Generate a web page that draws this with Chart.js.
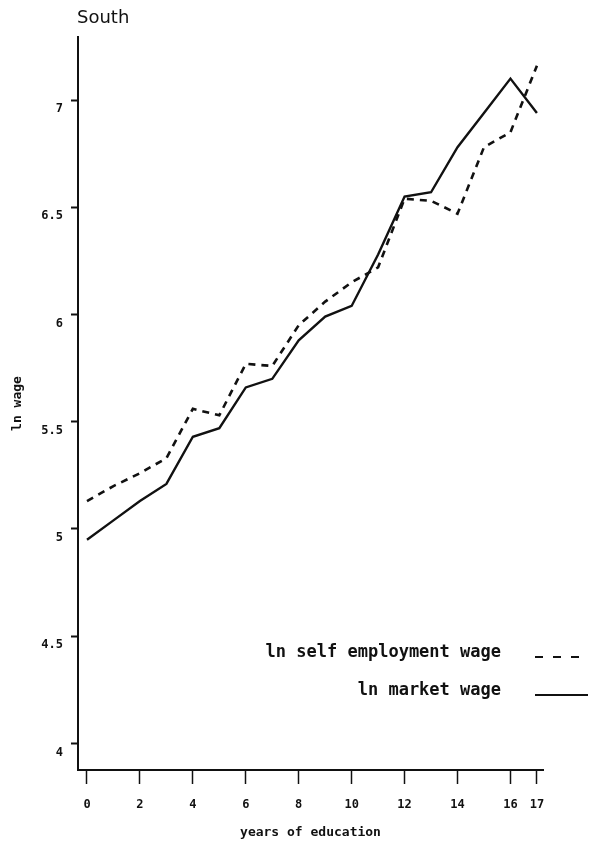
<!DOCTYPE html>
<html>
<head>
<meta charset="utf-8">
<title>South - ln wage by years of education</title>
<script src="https://cdn.jsdelivr.net/npm/chart.js@4/dist/chart.umd.min.js"></script>
<style>
    html, body { margin: 0; padding: 0; background: #ffffff; }
    #wrap { width: 590px; height: 850px; }
</style>
</head>
<body>
<div id="wrap"><canvas id="wageChart" width="590" height="850"></canvas></div>
<script>
    // Data
    const YEARS = [0, 1, 2, 3, 4, 5, 6, 7, 8, 9, 10, 11, 12, 13, 14, 15, 16, 17];
    const SELF_EMPLOYMENT_WAGE = [5.13, 5.20, 5.26, 5.33, 5.56, 5.53, 5.77, 5.76, 5.95, 6.06, 6.15, 6.22, 6.54, 6.53, 6.47, 6.78, 6.85, 7.16];
    const MARKET_WAGE = [4.95, 5.04, 5.13, 5.21, 5.43, 5.47, 5.66, 5.70, 5.88, 5.99, 6.04, 6.28, 6.55, 6.57, 6.78, 6.94, 7.10, 6.94];
    const X_TICKS = [0, 2, 4, 6, 8, 10, 12, 14, 16, 17];
    const Y_TICKS = [4, 4.5, 5, 5.5, 6, 6.5, 7];
    const SERIES_LABELS = ['ln self employment wage', 'ln market wage'];

    const INK = '#111111';
    const MONO = '"DejaVu Sans Mono", "Liberation Mono", monospace';

    function toPoints(values) {
        return YEARS.map((x, i) => ({ x: x, y: values[i] }));
    }

    // Title in the top left, above the y axis
    const titlePlugin = {
        id: 'plainTitle',
        afterDraw(chart) {
            const ctx = chart.ctx;
            ctx.save();
            ctx.fillStyle = INK;
            ctx.font = '18px "DejaVu Sans", sans-serif';
            ctx.textAlign = 'left';
            ctx.textBaseline = 'middle';
            ctx.fillText('South', chart.chartArea.left - 1, 18);
            ctx.restore();
        }
    };

    // Legend: label text on the left, line sample on the right
    const sideLegendPlugin = {
        id: 'sideLegend',
        afterDraw(chart) {
            const ctx = chart.ctx;
            const rows = [655, 693];
            ctx.save();
            chart.data.datasets.forEach((ds, i) => {
                const y = rows[i];
                ctx.fillStyle = INK;
                ctx.font = 'bold 17px ' + MONO;
                ctx.textAlign = 'right';
                ctx.textBaseline = 'middle';
                ctx.fillText(ds.label, 501, y - 2);

                ctx.strokeStyle = INK;
                ctx.lineWidth = 2;
                ctx.setLineDash(ds.borderDash && ds.borderDash.length ? [8, 10] : []);
                ctx.beginPath();
                ctx.moveTo(535, y + 2);
                ctx.lineTo(588, y + 2);
                ctx.stroke();
            });
            ctx.restore();
        }
    };

    const canvas = document.getElementById('wageChart');
    new Chart(canvas.getContext('2d'), {
        type: 'line',
        data: {
            datasets: [
                {
                    label: SERIES_LABELS[0],
                    data: toPoints(SELF_EMPLOYMENT_WAGE),
                    borderColor: INK,
                    borderWidth: 2.6,
                    borderDash: [7, 6],
                    pointRadius: 0,
                    tension: 0,
                    fill: false
                },
                {
                    label: SERIES_LABELS[1],
                    data: toPoints(MARKET_WAGE),
                    borderColor: INK,
                    borderWidth: 2.4,
                    pointRadius: 0,
                    tension: 0,
                    fill: false
                }
            ]
        },
        options: {
            responsive: false,
            animation: false,
            layout: {
                padding: { top: 37, right: 47, left: 0, bottom: 0 }
            },
            plugins: {
                legend: { display: false },
                title: { display: false },
                tooltip: { enabled: false }
            },
            scales: {
                x: {
                    type: 'linear',
                    min: -0.34,
                    max: 17.23,
                    afterBuildTicks: function (scale) {
                        scale.ticks = X_TICKS.map(v => ({ value: v }));
                    },
                    afterFit: function (scale) {
                        scale.height = 80;
                    },
                    border: { display: true, color: INK, width: 2 },
                    grid: {
                        drawOnChartArea: false,
                        drawTicks: true,
                        tickLength: 14,
                        tickColor: INK,
                        tickWidth: 1.5
                    },
                    ticks: {
                        color: INK,
                        padding: 14,
                        maxRotation: 0,
                        autoSkip: false,
                        font: { family: MONO, size: 12, weight: 'bold' },
                        callback: value => String(value)
                    },
                    title: {
                        display: true,
                        text: 'years of education',
                        color: INK,
                        font: { family: MONO, size: 13, weight: 'bold' },
                        padding: { top: 0, bottom: 10 }
                    }
                },
                y: {
                    type: 'linear',
                    min: 3.876,
                    max: 7.294,
                    afterBuildTicks: function (scale) {
                        scale.ticks = Y_TICKS.map(v => ({ value: v }));
                    },
                    afterFit: function (scale) {
                        scale.width = 78;
                    },
                    border: { display: true, color: INK, width: 2 },
                    grid: {
                        drawOnChartArea: false,
                        drawTicks: true,
                        tickLength: 7,
                        tickColor: INK,
                        tickWidth: 2
                    },
                    ticks: {
                        color: INK,
                        padding: 8,
                        labelOffset: 9,
                        autoSkip: false,
                        font: { family: MONO, size: 12, weight: 'bold' },
                        callback: value => String(value)
                    },
                    title: {
                        display: true,
                        text: 'ln wage',
                        color: INK,
                        font: { family: MONO, size: 13, weight: 'bold' },
                        padding: { top: 10, bottom: 0 }
                    }
                }
            }
        },
        plugins: [titlePlugin, sideLegendPlugin]
    });
</script>
</body>
</html>
